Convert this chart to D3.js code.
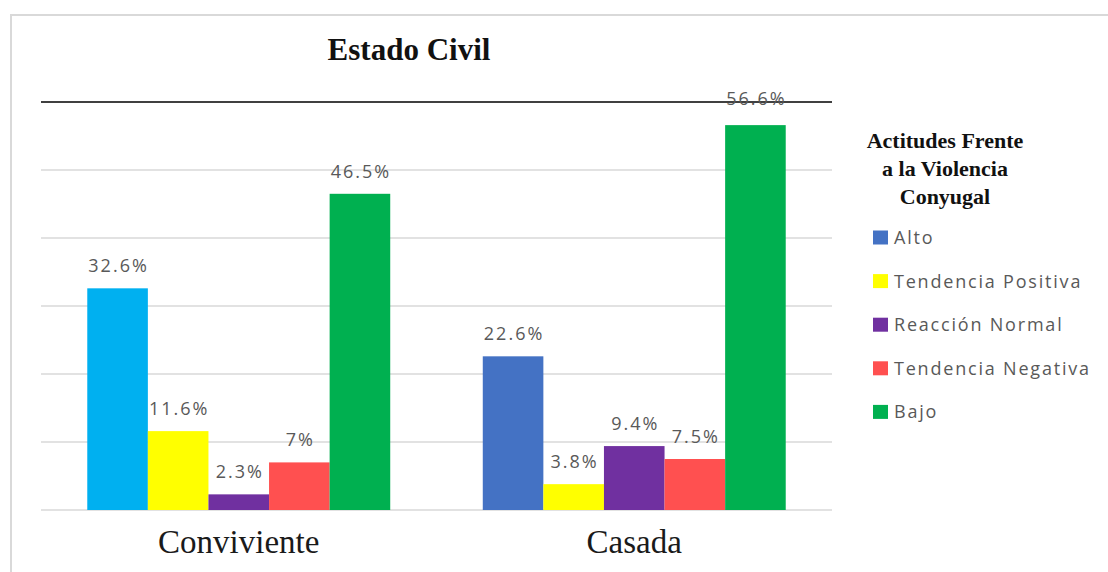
<!DOCTYPE html>
<html>
<head>
<meta charset="utf-8">
<script src="https://cdn.jsdelivr.net/npm/d3@7"></script>
<style>
  body { margin: 0; background: #fff; }
  svg { display: block; }
</style>
</head>
<body>
<div id="main"></div>
<script>
const categories = ['Conviviente', 'Casada'];
const series = ['Alto', 'Tendencia Positiva', 'Reacción Normal', 'Tendencia Negativa', 'Bajo'];
const convivienteValues = [32.6, 11.6, 2.3, 7, 46.5];
const casadaValues = [22.6, 3.8, 9.4, 7.5, 56.6];
const yTicks = [0, 10, 20, 30, 40, 50, 60];
const legendTitle = ['Actitudes Frente', 'a la Violencia', 'Conyugal'];

const seriesColors = ['#4472C4', '#FFFF00', '#7030A0', '#FF5050', '#00B050'];
// the first bar of Conviviente is painted a lighter blue in the original
const convivienteColors = ['#00B0F0', '#FFFF00', '#7030A0', '#FF5050', '#00B050'];

function main() {
  const width = 1108;
  const height = 572;
  const plotLeft = 41;
  const plotRight = 832;
  const baseY = 510;
  const topY = 102;

  const rows = [
    { cat: categories[0], values: convivienteValues, colors: convivienteColors },
    { cat: categories[1], values: casadaValues, colors: seriesColors },
  ];

  const svg = d3.select('#main')
    .append('svg')
    .attr('width', width)
    .attr('height', height);

  svg.append('rect')
    .attr('x', 11)
    .attr('y', 15)
    .attr('width', 1200)
    .attr('height', 700)
    .attr('fill', 'none')
    .attr('stroke', '#d9d9d9')
    .attr('stroke-width', 2);

  const x0 = d3.scaleBand()
    .domain(categories)
    .range([plotLeft, plotRight])
    .paddingInner(0.234)
    .paddingOuter(0.117);

  const x1 = d3.scaleBand()
    .domain(series)
    .range([0, x0.bandwidth()]);

  const yScale = d3.scaleLinear()
    .domain([0, 60])
    .range([baseY, topY]);

  svg.append('g')
    .selectAll('line')
    .data(yTicks)
    .enter()
    .append('line')
    .attr('x1', plotLeft)
    .attr('x2', plotRight)
    .attr('y1', d => yScale(d))
    .attr('y2', d => yScale(d))
    .attr('stroke', d => (d === 60 ? '#404040' : '#d9d9d9'))
    .attr('stroke-width', d => (d === 60 ? 2 : 1.5));

  const groups = svg.selectAll('.grp')
    .data(rows)
    .enter()
    .append('g')
    .attr('transform', d => `translate(${x0(d.cat)},0)`);

  groups.selectAll('rect')
    .data(d => d.values.map((v, i) => ({ key: series[i], value: v, color: d.colors[i] })))
    .enter()
    .append('rect')
    .attr('x', d => x1(d.key))
    .attr('y', d => yScale(d.value))
    .attr('width', x1.bandwidth())
    .attr('height', d => baseY - yScale(d.value))
    .attr('fill', d => d.color);

  // the label over the tallest bar sits a little lower, across the top line
  groups.selectAll('text')
    .data(d => d.values.map((v, i) => ({ key: series[i], value: v })))
    .enter()
    .append('text')
    .attr('x', d => x1(d.key) + x1.bandwidth() / 2 + 1)
    .attr('y', d => yScale(d.value) - (d.value > 55 ? 20 : 16))
    .style('font-family', '"Open Sans", sans-serif')
    .style('font-size', '18px')
    .style('letter-spacing', '2px')
    .style('fill', '#595959')
    .style('text-anchor', 'middle')
    .text(d => `${d.value}%`);

  svg.append('g')
    .selectAll('text')
    .data(categories)
    .enter()
    .append('text')
    .attr('x', d => x0(d) + x0.bandwidth() / 2)
    .attr('y', 553)
    .style('font-family', '"Liberation Serif", "Times New Roman", serif')
    .style('font-size', '33px')
    .style('fill', '#1a1a1a')
    .style('text-anchor', 'middle')
    .text(d => d);

  svg.append('text')
    .attr('x', 409)
    .attr('y', 60)
    .style('font-family', '"Liberation Serif", "Times New Roman", serif')
    .style('font-size', '31px')
    .style('font-weight', 'bold')
    .style('fill', '#111')
    .style('text-anchor', 'middle')
    .text('Estado Civil');

  // legend
  svg.append('g')
    .selectAll('text')
    .data(legendTitle)
    .enter()
    .append('text')
    .attr('x', 945)
    .attr('y', (d, i) => 148 + i * 28)
    .style('font-family', '"Liberation Serif", "Times New Roman", serif')
    .style('font-size', '22px')
    .style('font-weight', 'bold')
    .style('fill', '#111')
    .style('text-anchor', 'middle')
    .text(d => d);

  const legend = svg.append('g')
    .selectAll('g')
    .data(series)
    .enter()
    .append('g')
    .attr('transform', (d, i) => `translate(873, ${237.5 + i * 43.6})`);

  legend.append('rect')
    .attr('x', 0)
    .attr('y', -7)
    .attr('width', 15)
    .attr('height', 14)
    .attr('fill', (d, i) => seriesColors[i]);

  legend.append('text')
    .attr('x', 21)
    .attr('y', 6.5)
    .style('font-family', '"Open Sans", sans-serif')
    .style('font-size', '18px')
    .style('letter-spacing', '1.8px')
    .style('fill', '#595959')
    .text(d => d);
}

document.addEventListener('DOMContentLoaded', main);
</script>
</body>
</html>
